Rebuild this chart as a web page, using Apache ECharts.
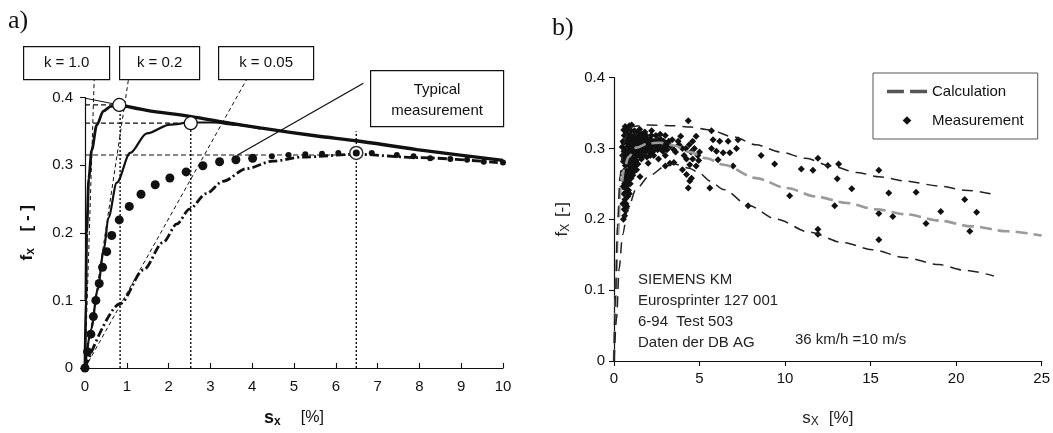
<!DOCTYPE html>
<html>
<head>
<meta charset="utf-8">
<script src="https://cdn.jsdelivr.net/npm/echarts@6/dist/echarts.min.js"></script>
<style>
html,body{margin:0;padding:0;background:#fff;}
#chart{width:1053px;height:433px;}
</style>
</head>
<body>
<div id="chart"></div>
<script>
// ---------- Panel a) data ----------
const aXTicks = [0,1,2,3,4,5,6,7,8,9,10];
const aYTicks = [0,0.1,0.2,0.3,0.4];
const k10Curve = [[0,0],[0.02,0.1],[0.04,0.2],[0.09,0.28],[0.16,0.322],[0.28,0.359],[0.44,0.38],[0.62,0.387],[0.82,0.389]];
const k02Curve = [[0,0],[0.15,0.058],[0.3,0.115],[0.45,0.175],[0.56,0.222],[0.76,0.274],[1.08,0.318],[1.48,0.347],[2.03,0.36],[2.53,0.363],[3.07,0.363],[3.6,0.36],[4.2,0.354]];
const envelope = [[0.82,0.389],[1.48,0.381],[2.51,0.372],[3.47,0.362],[4.19,0.355],[5.55,0.343],[6.49,0.336],[7.94,0.323],[10,0.307]];
const envelopeExt = [[0,0.399],[0.82,0.389]];
const k005Curve = [[0,0],[0.84,0.095],[1.4,0.145],[1.87,0.186],[2.2,0.213],[2.5,0.235],[2.9,0.258],[3.3,0.276],[3.87,0.295],[4.5,0.306],[5.2,0.312],[6.5,0.316],[8,0.311],[10,0.303]];
const typicalMeas = [[0,0],[0.06,0.024],[0.14,0.05],[0.2,0.076],[0.26,0.1],[0.34,0.125],[0.42,0.149],[0.52,0.172],[0.64,0.196],[0.82,0.219],[1.06,0.239],[1.34,0.257],[1.68,0.271],[2.03,0.281],[2.42,0.29],[2.82,0.299],[3.22,0.305],[3.61,0.308],[4.01,0.31],[4.47,0.313],[4.87,0.315],[5.27,0.316],[5.67,0.317],[6.06,0.318],[6.86,0.318],[7.46,0.315],[7.86,0.313],[8.26,0.31],[8.74,0.309],[9.14,0.308],[9.54,0.305],[10,0.304]];
const k10Tangent = [[0,0],[0.22,0.427]];
const k02Tangent = [[0,0],[1.04,0.427]];
const k005Tangent = [[0,0],[3.87,0.427]];
const typicalLeader = [[3.65,0.315],[6.66,0.421]];
const hGuide1 = [[0,0.389],[0.82,0.389]];
const hGuide2 = [[0,0.362],[2.53,0.362]];
const hGuide3 = [[0,0.315],[6.49,0.315]];
const vGuide1 = [[0.84,0],[0.84,0.389]];
const vGuide2 = [[2.53,0],[2.53,0.362]];
const vGuide3 = [[6.49,0],[6.49,0.35]];
const peakOpen = [[0.82,0.389],[2.53,0.362]];
const peakTypical = [[6.49,0.318]];
const kLabels = ['k = 1.0','k = 0.2','k = 0.05'];
const typicalLabel = ['Typical','measurement'];

// ---------- Panel b) data ----------
const bXTicks = [0,5,10,15,20,25];
const calcMean = [[0,0],[0.1,0.09],[0.2,0.17],[0.4,0.245],[0.6,0.272],[0.85,0.288],[1.3,0.301],[2.0,0.307],[2.7,0.308],[3.5,0.304],[4.4,0.295],[5.4,0.286],[6.4,0.277],[8.3,0.258],[10.1,0.244],[11.8,0.232],[13.6,0.223],[15.3,0.214],[17.1,0.207],[19,0.198],[20.9,0.19],[23,0.183],[25,0.177]];
const calcUpper = [[0,0],[0.1,0.1],[0.2,0.19],[0.35,0.26],[0.55,0.305],[0.8,0.325],[1.1,0.331],[2,0.333],[3.5,0.332],[4.5,0.33],[5.6,0.326],[7,0.316],[8.3,0.305],[9.7,0.295],[11.2,0.286],[12.7,0.275],[14.2,0.266],[15.5,0.26],[17,0.254],[19,0.247],[20.5,0.241],[22.2,0.235]];
const calcLower = [[0,0],[0.15,0.06],[0.3,0.13],[0.5,0.178],[0.8,0.214],[1.3,0.243],[2.1,0.262],[3.0,0.275],[3.5,0.278],[4.4,0.272],[5.0,0.265],[5.6,0.254],[6.4,0.242],[7.9,0.219],[9.5,0.2],[11.4,0.182],[13.4,0.167],[15.1,0.157],[17,0.146],[19,0.136],[20.5,0.128],[22.2,0.12]];
const measurement = [
 [0.55,0.2],[0.62,0.205],[0.6,0.214],[0.68,0.212],[0.7,0.222],[0.64,0.228],[0.75,0.218],[0.8,0.232],[0.72,0.238],[0.66,0.244],
 [0.85,0.241],[0.9,0.236],[0.78,0.248],[0.95,0.25],[0.88,0.256],[0.7,0.253],[1.0,0.258],[0.82,0.262],[1.1,0.262],[0.75,0.268],
 [0.92,0.27],[1.05,0.273],[1.2,0.268],[0.6,0.262],[0.66,0.276],[0.55,0.282],[0.5,0.29],[0.58,0.296],[0.48,0.302],[0.53,0.31],
 [0.6,0.318],[0.57,0.326],[0.65,0.331],[0.72,0.322],[0.8,0.328],[0.9,0.332],[1.0,0.325],[0.62,0.29],[0.68,0.3],[0.74,0.31],
 [0.84,0.316],[0.78,0.278],[0.86,0.285],[0.96,0.292],[0.7,0.285],[0.8,0.29],[0.9,0.295],[1.0,0.3],[1.1,0.305],[1.2,0.31],
 [0.75,0.3],[0.85,0.305],[0.95,0.31],[1.05,0.315],[1.15,0.318],[1.3,0.315],[1.4,0.31],[1.5,0.305],[1.6,0.312],[1.7,0.308],
 [1.8,0.315],[1.9,0.31],[2.0,0.305],[2.1,0.312],[2.2,0.308],[2.3,0.303],[2.4,0.31],[2.5,0.305],[2.6,0.312],[2.7,0.3],
 [2.8,0.308],[2.9,0.31],[3.0,0.305],[3.1,0.298],[3.2,0.31],[3.3,0.303],[3.4,0.312],[3.5,0.298],[1.25,0.295],[1.35,0.29],
 [1.45,0.298],[1.55,0.293],[1.65,0.297],[1.75,0.3],[1.85,0.296],[1.95,0.3],[2.05,0.295],[2.15,0.298],[2.25,0.295],[2.35,0.298],
 [1.0,0.285],[1.1,0.28],[1.2,0.288],[0.9,0.275],[1.3,0.283],[1.4,0.278],[1.6,0.285],[1.1,0.29],[0.98,0.265],[1.25,0.275],
 [1.2,0.325],[1.4,0.322],[1.6,0.32],[1.8,0.323],[2.2,0.325],[2.7,0.32],[3.0,0.318],[1.03,0.333],[1.5,0.327],[2.45,0.318],
 [1.52,0.26],[2.0,0.279],[3.27,0.279],[2.6,0.285],[3.0,0.29],[3.6,0.295],[3.8,0.305],[3.9,0.317],[3.75,0.31],[4.0,0.3],
 [4.1,0.29],[4.2,0.3],[4.34,0.339],[4.8,0.317],[4.6,0.31],[4.4,0.305],[4.5,0.295],[4.24,0.285],[4.43,0.277],[4.8,0.275],
 [4.6,0.285],[4.9,0.29],[4.24,0.263],[4.43,0.254],[4.34,0.244],[4.53,0.258],[4.0,0.27],[3.5,0.28],[3.0,0.275],[4.7,0.3],
 [5.0,0.295],[4.95,0.283],[5.6,0.244],[5.7,0.325],[5.79,0.312],[6.18,0.31],[6.67,0.31],[7.25,0.312],[5.7,0.3],[5.99,0.296],
 [6.38,0.294],[6.77,0.294],[7.16,0.3],[6.08,0.284],[6.96,0.275],[8.6,0.29],[9.39,0.278],[7.84,0.219],[10.27,0.233],[10.95,0.271],
 [11.63,0.269],[11.92,0.286],[12.5,0.276],[13.13,0.278],[13.05,0.257],[13.9,0.243],[12.9,0.219],[11.92,0.186],[11.92,0.179],[15.48,0.269],
 [15.48,0.208],[15.48,0.171],[16.06,0.237],[16.3,0.204],[17.66,0.238],[18.24,0.194],[19.1,0.211],[20.5,0.228],[20.8,0.183],[21.2,0.21],
 [0.52,0.246],[0.56,0.255],[0.58,0.268],[0.64,0.283],[0.67,0.292],[0.76,0.294],[0.83,0.298],[0.88,0.309],[0.93,0.318],[0.98,0.308],
 [1.08,0.297],[1.14,0.284],[1.17,0.299],[1.22,0.3],[1.28,0.306],[1.33,0.3],[1.38,0.304],[1.43,0.316],[1.48,0.29],[1.56,0.316],
 [1.62,0.303],[1.68,0.318],[1.72,0.29],[1.78,0.306],[1.84,0.303],[1.88,0.318],[1.92,0.288],[1.98,0.312],[2.08,0.303],[2.12,0.29],
 [2.18,0.318],[2.28,0.31],[2.32,0.29],[2.42,0.302],[2.55,0.298],[2.65,0.305],[2.75,0.312],[2.85,0.296],[2.95,0.302],[3.15,0.306],
 [0.58,0.236],[0.62,0.25],[0.74,0.258],[0.86,0.266],[0.94,0.282],[1.06,0.288],[1.16,0.274],[1.32,0.27],[0.52,0.222],[0.57,0.308]
];
const infoLines = ['SIEMENS KM','Eurosprinter 127 001','6-94  Test 503','Daten der DB AG'];
const speedNote = '36 km/h =10 m/s';

// ---------- chart ----------
const FONT = 'Liberation Sans, Arial, sans-serif';
const INK = '#111';
const chart = echarts.init(document.getElementById('chart'), null, {renderer:'canvas'});

function lineSeries(name, data, style, extra){
  return Object.assign({
    type:'line', name, data, xAxisIndex:0, yAxisIndex:0,
    symbol:'none', showSymbol:false, silent:true, animation:false,
    lineStyle:Object.assign({color:INK,width:1,opacity:1}, style)
  }, extra||{});
}

const axisBase = (extra)=>Object.assign({
  type:'value',
  axisLine:{show:true,onZero:false,lineStyle:{color:INK,width:1.2}},
  axisTick:{show:true,length:5,lineStyle:{color:INK,width:1.1}},
  axisLabel:{color:INK,fontSize:15,fontFamily:FONT},
  splitLine:{show:false}
}, extra);

const option = {
  backgroundColor:'#fff',
  animation:false,
  grid:[
    {left:85, top:97.5, width:418, height:272},
    {left:614, top:77.5, width:429, height:284.5}
  ],
  legend:{
    data:[
      {name:'Calculation', icon:'path://M0,0 L11,0 L11,2.4 L0,2.4 Z M15,0 L26,0 L26,2.4 L15,2.4 Z', itemStyle:{color:'#555'}},
      {name:'Measurement', icon:'path://M0,5 L5,0 L10,5 L5,10 Z M28,5 L28,5 L28,5 Z M-18,5 L-18,5 L-18,5 Z', itemStyle:{color:INK}}
    ],
    symbolKeepAspect:true,
    orient:'vertical',
    left:873, top:73,
    padding:[11,14,11,14],
    itemGap:14,
    itemWidth:40, itemHeight:9,
    borderColor:'#555', borderWidth:1,
    textStyle:{color:INK,fontSize:15,fontFamily:FONT},
    selectedMode:false
  },
  xAxis:[
    axisBase({gridIndex:0,min:0,max:10,interval:1,
      axisTick:{show:true,inside:true,length:5,lineStyle:{color:INK,width:1.1}},
      axisLabel:{color:INK,fontSize:15,fontFamily:FONT,margin:11},
      name:'{b|s}{sb|x}      {n|[%]}', nameLocation:'middle', nameGap:40,
      nameTextStyle:{rich:{
        b:{fontSize:18,fontWeight:'bold',fontFamily:FONT,color:INK},
        sb:{fontSize:12,fontWeight:'bold',fontFamily:FONT,color:INK,padding:[8,0,0,0]},
        n:{fontSize:16,fontFamily:FONT,color:INK}
      }}
    }),
    axisBase({gridIndex:1,min:0,max:25,interval:5,
      axisLabel:{color:INK,fontSize:15,fontFamily:FONT,margin:10},
      name:'{n|s}{s|X}   {n|[%]}', nameLocation:'middle', nameGap:47,
      nameTextStyle:{rich:{
        n:{fontSize:17,fontFamily:FONT,color:'#222'},
        s:{fontSize:12,fontFamily:FONT,color:'#222',padding:[8,0,0,0]}
      }}
    })
  ],
  yAxis:[
    axisBase({gridIndex:0,min:0,max:0.4,interval:0.1,
      axisLabel:{color:INK,fontSize:15,fontFamily:FONT,margin:12,
        formatter:(v)=>v===0?'0':String(Math.round(v*10)/10)},
      name:'{b|f}{sb|x}     {b|[ - ]}', nameLocation:'middle', nameGap:48, nameRotate:90,
      nameTextStyle:{rich:{
        b:{fontSize:17,fontWeight:'bold',fontFamily:FONT,color:INK},
        sb:{fontSize:12,fontWeight:'bold',fontFamily:FONT,color:INK,padding:[8,0,0,0]}
      }}
    }),
    axisBase({gridIndex:1,min:0,max:0.4,interval:0.1,
      axisLabel:{color:INK,fontSize:15,fontFamily:FONT,margin:9,
        formatter:(v)=>v===0?'0':String(Math.round(v*10)/10)},
      name:'{n|f}{s|X}  {n|[-]}', nameLocation:'middle', nameGap:42, nameRotate:90,
      nameTextStyle:{rich:{
        n:{fontSize:17,fontFamily:FONT,color:'#222'},
        s:{fontSize:12,fontFamily:FONT,color:'#222',padding:[8,0,0,0]}
      }}
    })
  ],
  series:[
    // guides
    lineSeries('hGuide1', hGuide1, {type:[5,3],width:1.2}),
    lineSeries('hGuide2', hGuide2, {type:[5,3],width:1.2}),
    lineSeries('hGuide3', hGuide3, {type:[5,3],width:1.2}),
    lineSeries('vGuide1', vGuide1, {type:[2,2],width:1.4}),
    lineSeries('vGuide2', vGuide2, {type:[2,2],width:1.4}),
    lineSeries('vGuide3', vGuide3, {type:[2,2],width:1.4}),
    // tangents / leaders
    lineSeries('k10Tangent', k10Tangent, {type:[4,3],width:1}, {clip:false}),
    lineSeries('k02Tangent', k02Tangent, {type:[4,3],width:1}, {clip:false}),
    lineSeries('k005Tangent', k005Tangent, {type:[4,3],width:1}, {clip:false}),
    lineSeries('typicalLeader', typicalLeader, {width:1.3}, {clip:false}),
    // curves
    lineSeries('envelopeExt', envelopeExt, {width:1}),
    lineSeries('envelope', envelope, {width:3.4}, {smooth:0.3}),
    lineSeries('k=1.0', k10Curve, {width:2.8}, {smooth:0.3, smoothMonotone:'x'}),
    lineSeries('k=0.2', k02Curve, {width:2.2}, {smooth:0.3, smoothMonotone:'x'}),
    lineSeries('k=0.05', k005Curve, {width:2.8,type:[9,3,2,3]}, {smooth:0.3, smoothMonotone:'x'}),
    {
      type:'scatter', name:'Typical measurement', xAxisIndex:0, yAxisIndex:0,
      data:typicalMeas, symbol:'circle',
      symbolSize:(v)=> v[0] > 4.3 ? 6 : 9,
      itemStyle:{color:INK,opacity:1}, silent:true, z:3
    },
    {
      type:'scatter', name:'peaks', xAxisIndex:0, yAxisIndex:0, data:peakOpen,
      symbol:'circle', symbolSize:13,
      itemStyle:{color:'#fff',borderColor:INK,borderWidth:1.3,opacity:1}, silent:true, z:5
    },
    {
      type:'scatter', name:'peakTypOuter', xAxisIndex:0, yAxisIndex:0, data:peakTypical,
      symbol:'circle', symbolSize:13,
      itemStyle:{color:'#fff',borderColor:'#333',borderWidth:1.5,opacity:1}, silent:true, z:5
    },
    {
      type:'scatter', name:'peakTypInner', xAxisIndex:0, yAxisIndex:0, data:peakTypical,
      symbol:'circle', symbolSize:7,
      itemStyle:{color:INK,opacity:1}, silent:true, z:6
    },
    // ---- panel b
    {
      type:'scatter', name:'Measurement', xAxisIndex:1, yAxisIndex:1, data:measurement,
      symbol:'diamond', symbolSize:7, itemStyle:{color:INK,opacity:1}, silent:true, z:3
    },
    {
      type:'line', name:'Calculation', xAxisIndex:1, yAxisIndex:1, data:calcMean,
      symbol:'none', showSymbol:false, smooth:0.3, smoothMonotone:'x', silent:true, z:4,
      itemStyle:{color:'#9a9a9a'},
      lineStyle:{color:'#9a9a9a',width:2.6,type:[12,6]}
    },
    {
      type:'line', name:'Calculation upper', xAxisIndex:1, yAxisIndex:1, data:calcUpper,
      symbol:'none', showSymbol:false, smooth:0.3, smoothMonotone:'x', silent:true, z:4,
      itemStyle:{color:'#222'},
      lineStyle:{color:'#222',width:1.5,type:[11,7]}
    },
    {
      type:'line', name:'Calculation lower', xAxisIndex:1, yAxisIndex:1, data:calcLower,
      symbol:'none', showSymbol:false, smooth:0.3, smoothMonotone:'x', silent:true, z:4,
      itemStyle:{color:'#222'},
      lineStyle:{color:'#222',width:1.5,type:[11,7]}
    }
  ],
  graphic:[
    {type:'text', left:8, top:8, style:{text:'a)', font:'26px "Liberation Serif", "DejaVu Serif", serif', fill:INK}},
    {type:'text', left:552, top:15, style:{text:'b)', font:'26px "Liberation Serif", "DejaVu Serif", serif', fill:INK}},
    // k boxes
    {type:'group', left:23, top:46, children:[
      {type:'rect', shape:{x:0,y:0,width:86,height:33}, style:{fill:'#fff',stroke:INK,lineWidth:1.2}},
      {type:'text', x:43, y:16.5, style:{text:kLabels[0], font:'15px '+FONT, fill:INK, textAlign:'center', textVerticalAlign:'middle'}}
    ]},
    {type:'group', left:119, top:46, children:[
      {type:'rect', shape:{x:0,y:0,width:80,height:33}, style:{fill:'#fff',stroke:INK,lineWidth:1.2}},
      {type:'text', x:40, y:16.5, style:{text:kLabels[1], font:'15px '+FONT, fill:INK, textAlign:'center', textVerticalAlign:'middle'}}
    ]},
    {type:'group', left:218, top:46, children:[
      {type:'rect', shape:{x:0,y:0,width:95,height:33}, style:{fill:'#fff',stroke:INK,lineWidth:1.2}},
      {type:'text', x:47.5, y:16.5, style:{text:kLabels[2], font:'15px '+FONT, fill:INK, textAlign:'center', textVerticalAlign:'middle'}}
    ]},
    {type:'group', left:370, top:70, children:[
      {type:'rect', shape:{x:0,y:0,width:133,height:56}, style:{fill:'#fff',stroke:INK,lineWidth:1.2}},
      {type:'text', x:66.5, y:19, style:{text:typicalLabel[0], font:'15px '+FONT, fill:INK, textAlign:'center', textVerticalAlign:'middle'}},
      {type:'text', x:66.5, y:40, style:{text:typicalLabel[1], font:'15px '+FONT, fill:INK, textAlign:'center', textVerticalAlign:'middle'}}
    ]},
    // info text panel b
    {type:'text', left:638, top:270, style:{text:infoLines.join('\n'), font:'15px '+FONT, lineHeight:20.7, fill:'#222'}},
    {type:'text', left:795, top:332, style:{text:speedNote, font:'15px '+FONT, fill:'#222'}}
  ]
};
chart.setOption(option);
</script>
</body>
</html>
